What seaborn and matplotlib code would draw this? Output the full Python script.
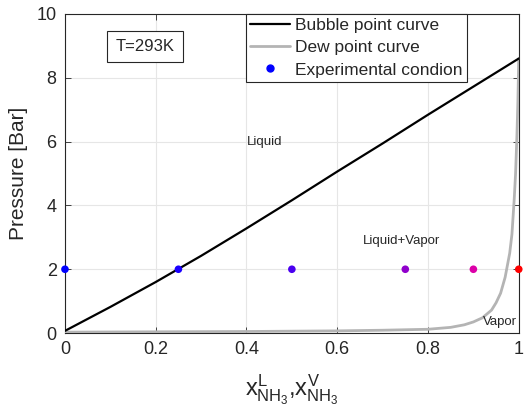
import matplotlib
matplotlib.use("Agg")
import matplotlib.pyplot as plt
import seaborn as sns
import pandas as pd
from matplotlib.lines import Line2D

# Bubble point curve (liquid mole fraction NH3 vs pressure)
bubble_x = [0.0, 0.1, 0.2, 0.3, 0.4, 0.5, 0.6, 0.7, 0.8, 0.9, 1.0]
bubble_p = [0.07, 0.82, 1.6, 2.42, 3.28, 4.16, 5.06, 5.94, 6.84, 7.72, 8.6]

# Dew point curve (vapor mole fraction NH3 vs pressure)
dew_x = [0.0, 0.2, 0.4, 0.6, 0.7, 0.8, 0.85, 0.88, 0.9, 0.92, 0.94, 0.95, 0.96,
         0.97, 0.98, 0.985, 0.99, 0.993, 0.996, 0.998, 1.0]
dew_p = [0.03, 0.04, 0.05, 0.07, 0.09, 0.12, 0.18, 0.26, 0.35, 0.48, 0.72, 0.95, 1.25,
         1.75, 2.5, 3.1, 4.2, 5.0, 6.2, 7.2, 8.6]

# Experimental conditions
exp_x = [0.0, 0.25, 0.5, 0.75, 0.9, 1.0]
exp_p = [2, 2, 2, 2, 2, 2]
exp_labels = ["c0", "c25", "c50", "c75", "c90", "c100"]
exp_colors = ["#0000ff", "#1a00ff", "#4a00f0", "#9000cc", "#dc00a8", "#ff0000"]

x_ticks = [0, 0.2, 0.4, 0.6, 0.8, 1]
x_ticklabels = ["0", "0.2", "0.4", "0.6", "0.8", "1"]
y_ticks = [0, 2, 4, 6, 8, 10]

sns.set_theme(style="whitegrid")
plt.rcParams["font.family"] = ["Liberation Sans", "DejaVu Sans"]
plt.rcParams["mathtext.fontset"] = "custom"
plt.rcParams["mathtext.rm"] = "Liberation Sans"
plt.rcParams["mathtext.it"] = "Liberation Sans"

fig = plt.figure(figsize=(5.24, 4.19), dpi=100)
ax = fig.add_axes([0.124, 0.205, 0.866, 0.762])

df_b = pd.DataFrame({"x": bubble_x, "p": bubble_p})
df_d = pd.DataFrame({"x": dew_x, "p": dew_p})
df_e = pd.DataFrame({"x": exp_x, "p": exp_p, "c": exp_labels})

sns.lineplot(data=df_d, x="x", y="p", ax=ax, color="#b4b4b4", lw=2.0,
             sort=False, estimator=None, zorder=3)
sns.lineplot(data=df_b, x="x", y="p", ax=ax, color="black", lw=1.6,
             sort=False, estimator=None, zorder=4)
sns.scatterplot(data=df_e, x="x", y="p", hue="c", palette=exp_colors, ax=ax,
                s=30, edgecolor="none", legend=False, zorder=5, clip_on=False)

ax.set_xlim(0, 1)
ax.set_ylim(0, 10)
ax.set_xticks(x_ticks)
ax.set_xticklabels(x_ticklabels)
ax.set_yticks(y_ticks)
ax.grid(True, color="#e6e6e6", lw=0.8)
for s in ax.spines.values():
    s.set_color("#262626")
    s.set_linewidth(0.8)
ax.tick_params(axis="both", which="both", direction="in", length=4, width=0.6,
               colors="#262626", labelcolor="#262626", labelsize=13,
               top=True, right=True, bottom=True, left=True, pad=6)

ax.set_ylabel("Pressure [Bar]", fontsize=15, color="#262626", labelpad=6)
ax.set_xlabel(r"$x^{L}_{\mathrm{NH}_3}$,$x^{V}_{\mathrm{NH}_3}$", fontsize=17,
              color="#262626", labelpad=10)

ax.text(0.44, 6.0, "Liquid", fontsize=9.5, ha="center", va="center", color="#262626")
ax.text(0.742, 2.9, "Liquid+Vapor", fontsize=9.5, ha="center", va="center", color="#262626")
ax.text(0.958, 0.35, "Vapor", fontsize=9.5, ha="center", va="center", color="#262626")
ax.text(0.176, 8.98, "T=293K", fontsize=12, ha="center", va="center", color="#262626",
        bbox=dict(boxstyle="square,pad=0.5", fc="white", ec="#262626", lw=0.8))

handles = [
    Line2D([], [], color="black", lw=1.6),
    Line2D([], [], color="#b4b4b4", lw=2.0),
    Line2D([], [], color="#0000ff", marker="o", ls="none", markersize=5),
]
labels = ["Bubble point curve", "Dew point curve", "Experimental condion"]
leg = ax.legend(handles, labels, loc="upper left", bbox_to_anchor=(0.398, 1.0),
                fontsize=12.5, frameon=True, fancybox=False, framealpha=1,
                edgecolor="#262626", handlelength=2.3, handletextpad=0.3,
                borderpad=0.25, labelspacing=0.4, borderaxespad=0)
leg.get_frame().set_linewidth(0.8)
for t in leg.get_texts():
    t.set_color("#262626")

fig.savefig("out.png", dpi=100)
